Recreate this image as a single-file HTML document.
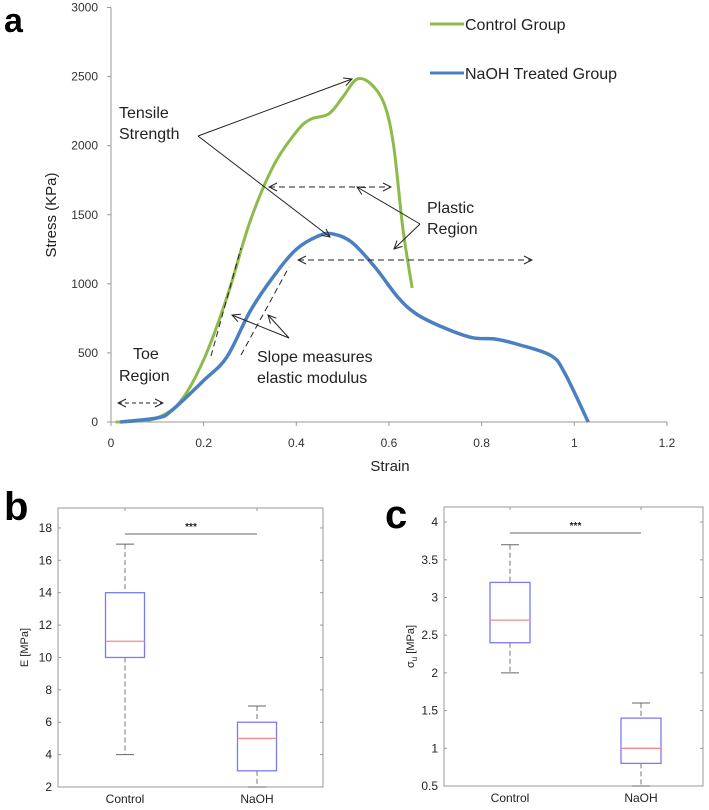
<!DOCTYPE html>
<html><head><meta charset="utf-8"><style>
body{margin:0;background:#fff;}
svg text{font-family:"Liberation Sans",sans-serif;}
</style></head><body>
<svg id="fig" width="709" height="805" viewBox="0 0 709 805" xmlns="http://www.w3.org/2000/svg">
<defs>
<marker id="ah" markerWidth="10" markerHeight="10" refX="9" refY="5" orient="auto" markerUnits="userSpaceOnUse"><path d="M1,1 L9,5 L1,9" fill="none" stroke="#222" stroke-width="1"/></marker>
</defs>
<g id="panelA"></g>
<g id="panelB"></g>
<g id="panelC"></g>
</svg>
<script>
const NS="http://www.w3.org/2000/svg";
// ---- Panel a data ----
const xTicks=[0,0.2,0.4,0.6,0.8,1,1.2];
const xTickLabels=["0","0.2","0.4","0.6","0.8","1","1.2"];
const yTicks=[0,500,1000,1500,2000,2500,3000];
const controlStrain=[0.01,0.05,0.1,0.15,0.2,0.25,0.3,0.35,0.4,0.43,0.47,0.5,0.53,0.56,0.59,0.61,0.63,0.65];
const controlStress=[0,5,30,150,450,900,1450,1850,2100,2190,2230,2350,2480,2450,2300,2000,1400,970];
const naohStrain=[0.02,0.1,0.13,0.2,0.25,0.3,0.35,0.4,0.45,0.48,0.52,0.57,0.62,0.66,0.72,0.78,0.83,0.88,0.95,0.98,1.03];
const naohStress=[0,30,80,300,470,800,1050,1250,1350,1360,1300,1120,900,780,680,610,600,560,480,350,0];
// ---- Panel b data ----
const boxCategories=["Control","NaOH"];
const eMin=[4,2], eQ1=[10,3], eMed=[11,5], eQ3=[14,6], eMax=[17,7];
const eTicks=[2,4,6,8,10,12,14,16,18];
// ---- Panel c data ----
const sMin=[2,0.5], sQ1=[2.4,0.8], sMed=[2.7,1.0], sQ3=[3.2,1.4], sMax=[3.7,1.6];
const sTicks=[0.5,1,1.5,2,2.5,3,3.5,4];
const sTickLabels=["0.5","1","1.5","2","2.5","3","3.5","4"];

function mk(tag,attrs,parent,text){const e=document.createElementNS(NS,tag);for(const k in attrs)e.setAttribute(k,attrs[k]);if(text!==undefined)e.textContent=text;parent.appendChild(e);return e;}

// Panel a
const A=document.getElementById('panelA');
const ax=v=>111+v*463.3, ay=v=>422-v*(414.5/3000);
let e;
e=mk('text',{x:4,y:32,'font-size':34,'font-weight':'bold',fill:'#000'},A,'a');

e=mk('line',{x1:ax(0),y1:ay(0),x2:ax(0),y2:ay(3000),stroke:'#999','stroke-width':1},A);

e=mk('line',{x1:ax(0),y1:ay(0),x2:ax(1.2),y2:ay(0),stroke:'#999','stroke-width':1},A);

yTicks.forEach(v=>{
  mk('line',{x1:ax(0)-4,y1:ay(v),x2:ax(0),y2:ay(v),stroke:'#999'},A);
  e=mk('text',{x:98,y:ay(v)+4,'font-size':12,'text-anchor':'end',fill:'#333'},A,String(v));
  
});
xTicks.forEach((v,i)=>{
  mk('line',{x1:ax(v),y1:ay(0),x2:ax(v),y2:ay(0)+4,stroke:'#999'},A);
  e=mk('text',{x:ax(v),y:447,'font-size':12,'text-anchor':'middle',fill:'#333'},A,xTickLabels[i]);
  
});
e=mk('text',{x:390,y:471,'font-size':15,'text-anchor':'middle',fill:'#222'},A,'Strain');

e=mk('text',{x:56,y:215,'font-size':15,'text-anchor':'middle',fill:'#222',transform:'rotate(-90 56 215)'},A,'Stress (KPa)');

function smooth(xs,ys){const p=xs.map((x,i)=>[ax(x),ay(ys[i])]);let d=`M${p[0][0]},${p[0][1]}`;
  for(let i=0;i<p.length-1;i++){const p0=p[i-1]||p[i],p1=p[i],p2=p[i+1],p3=p[i+2]||p2;
    d+=` C${p1[0]+(p2[0]-p0[0])/6},${p1[1]+(p2[1]-p0[1])/6} ${p2[0]-(p3[0]-p1[0])/6},${p2[1]-(p3[1]-p1[1])/6} ${p2[0]},${p2[1]}`;}
  return d;}
e=mk('path',{d:smooth(controlStrain,controlStress),fill:'none',stroke:'#8dbb4a','stroke-width':3},A);

e=mk('path',{d:smooth(naohStrain,naohStress),fill:'none',stroke:'#4a7fc1','stroke-width':3.5},A);

// legend
e=mk('line',{x1:430,y1:24,x2:464,y2:24,stroke:'#8dbb4a','stroke-width':3},A);

e=mk('text',{x:465,y:30,'font-size':16,fill:'#222'},A,'Control Group');

e=mk('line',{x1:430,y1:73,x2:464,y2:73,stroke:'#4a7fc1','stroke-width':3},A);

e=mk('text',{x:465,y:79,'font-size':16,fill:'#222'},A,'NaOH Treated Group');

// annotations
function arrow(x1,y1,x2,y2,dash,both){const l=mk('line',{x1,y1,x2,y2,stroke:'#222','stroke-width':1,'marker-end':'url(#ah)'},A);
  if(dash)l.setAttribute('stroke-dasharray','6,4');if(both)l.setAttribute('marker-start','url(#ahs)');return l;}
mk('marker',{id:'ahs',markerWidth:10,markerHeight:10,refX:1,refY:5,orient:'auto',markerUnits:'userSpaceOnUse'},document.querySelector('defs'));
mk('path',{d:'M9,1 L1,5 L9,9',fill:'none',stroke:'#222','stroke-width':1},document.getElementById('ahs'));
e=arrow(198,136,352,79);
e=arrow(198,136,330,237);
e=arrow(269,187,391,187,true,true);
e=arrow(298,260,532,260,true,true);
e=arrow(420,224,357,187);
e=arrow(420,224,394,249);
e=arrow(289,338,232,315);
e=arrow(289,338,268,315);
e=arrow(118,403,163,403,true,true);
e.setAttribute('stroke-dasharray','4,3');
e=mk('line',{x1:211,y1:356,x2:241,y2:248,stroke:'#222','stroke-dasharray':'6,4'},A);

e=mk('line',{x1:241,y1:355,x2:289,y2:267,stroke:'#222','stroke-dasharray':'6,4'},A);

[['Tensile',119,118,'tensile-label-1'],['Strength',119,139,'tensile-label-2'],['Plastic',427,213,'plastic-label-1'],['Region',427,234,'plastic-label-2'],
 ['Toe',133,359,'toe-label-1'],['Region',119,381,'toe-label-2'],['Slope measures',257,362,'slope-label-1'],['elastic modulus',257,383,'slope-label-2']].forEach(t=>{
  e=mk('text',{x:t[1],y:t[2],'font-size':16,fill:'#222'},A,t[0]);
  
});

// Box plots
function boxplot(G,L,R,T,B,ymin,ymax,ticks,tickLabels,mins,q1,med,q3,maxs,cx,bw,sigY,ylabel,isSigma,letter,lx,ly){
  const yy=v=>B-(v-ymin)/(ymax-ymin)*(B-T);
  let e=mk('text',{x:lx,y:ly,'font-size':40,'font-weight':'bold',fill:'#000'},G,letter);
  
  e=mk('rect',{x:L,y:T,width:R-L,height:B-T,fill:'none',stroke:'#999','stroke-width':1},G);
  
  ticks.forEach((v,i)=>{
    mk('line',{x1:L,y1:yy(v),x2:L+3,y2:yy(v),stroke:'#999'},G);
    mk('line',{x1:R-3,y1:yy(v),x2:R,y2:yy(v),stroke:'#999'},G);
    e=mk('text',{x:L-6,y:yy(v)+4,'font-size':12,'text-anchor':'end',fill:'#222'},G,tickLabels[i]);
    
  });
  boxCategories.forEach((c,i)=>{
    const x=cx[i];
    mk('line',{x1:x,y1:T,x2:x,y2:T+3,stroke:'#999'},G);
    e=mk('text',{x:x,y:B+16,'font-size':12,'text-anchor':'middle',fill:'#222'},G,c);
    
    e=mk('line',{x1:x,y1:yy(maxs[i]),x2:x,y2:yy(q3[i]),stroke:'#777','stroke-dasharray':'5,3'},G);
    
    e=mk('line',{x1:x,y1:yy(q1[i]),x2:x,y2:yy(mins[i]),stroke:'#777','stroke-dasharray':'5,3'},G);
    
    mk('line',{x1:x-9,y1:yy(maxs[i]),x2:x+9,y2:yy(maxs[i]),stroke:'#666'},G);
    mk('line',{x1:x-9,y1:yy(mins[i]),x2:x+9,y2:yy(mins[i]),stroke:'#666'},G);
    e=mk('rect',{x:x-bw/2,y:yy(q3[i]),width:bw,height:yy(q1[i])-yy(q3[i]),fill:'none',stroke:'#7b7bf5','stroke-width':1.3},G);
    
    e=mk('line',{x1:x-bw/2,y1:yy(med[i]),x2:x+bw/2,y2:yy(med[i]),stroke:'#f58a8a','stroke-width':1.3},G);
    
  });
  e=mk('line',{x1:cx[0],y1:sigY,x2:cx[1],y2:sigY,stroke:'#666'},G);
  
  e=mk('text',{x:(cx[0]+cx[1])/2,y:sigY-4,'font-size':10,'font-weight':'bold','text-anchor':'middle',fill:'#222'},G,'***');
  
  const tx=L-30,ty=(T+B)/2;
  e=mk('text',{x:tx,y:ty,'font-size':11,'text-anchor':'middle',fill:'#222',transform:`rotate(-90 ${tx} ${ty})`},G);
  
  if(isSigma){mk('tspan',{},e,'σ');mk('tspan',{'font-size':8,dy:3},e,'u');mk('tspan',{dy:-3},e,' [MPa]');}
  else e.textContent=ylabel;
}
boxplot(document.getElementById('panelB'),58,323,508,787,2,19.23,eTicks,eTicks.map(String),eMin,eQ1,eMed,eQ3,eMax,[125,257],39,534,'E [MPa]',false,'b',4,520);
boxplot(document.getElementById('panelC'),444,703,507,786,0.5,4.2,sTicks,sTickLabels,sMin,sQ1,sMed,sQ3,sMax,[510,641],40,533,'',true,'c',385,528);
</script>
</body></html>
